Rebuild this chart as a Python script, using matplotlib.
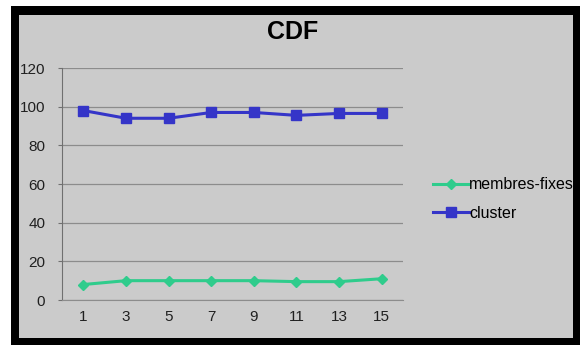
import numpy as np
import matplotlib.pyplot as plt
from matplotlib.patches import Rectangle

# données
x_labels = ["1", "3", "5", "7", "9", "11", "13", "15"]
membres_fixes = [8, 10, 10, 10, 10, 9.5, 9.5, 11]
cluster = [98, 94, 94, 97, 97, 95.5, 96.5, 96.5]
y_ticks = [0, 20, 40, 60, 80, 100, 120]

plt.rcParams['font.family'] = ['Liberation Sans', 'DejaVu Sans']

W, H = 585, 345
fig = plt.figure(figsize=(W / 100, H / 100), dpi=100, facecolor="white")

# cadre noir + fond gris
fig.patches.append(Rectangle((11 / W, 0), (580 - 11) / W, (H - 6) / H,
                             transform=fig.transFigure, facecolor="black",
                             edgecolor="none", zorder=-2))
fig.patches.append(Rectangle((19 / W, (H - 338) / H), (573 - 19) / W, (338 - 15) / H,
                             transform=fig.transFigure, facecolor="#cbcbcb",
                             edgecolor="none", zorder=-1))

ax = fig.add_axes([62 / W, 1 - 300 / H, (403 - 62) / W, (300 - 68) / H])
ax.set_facecolor("none")

x = np.arange(len(x_labels))
ax.plot(x, membres_fixes, color="#2fcc8c", lw=2.2, marker="D", ms=5,
        label="membres-fixes")
ax.plot(x, cluster, color="#3535c8", lw=2.2, marker="s", ms=7,
        label="cluster")

ax.set_xlim(-0.5, len(x_labels) - 0.5)
ax.set_ylim(0, 120)
ax.set_xticks(x)
ax.set_xticklabels(x_labels)
ax.set_yticks(y_ticks)
ax.yaxis.grid(True, color="#8c8c8c", lw=0.9)
ax.set_axisbelow(True)
for s in ["top", "right"]:
    ax.spines[s].set_visible(False)
ax.spines["left"].set_color("#707070")
ax.spines["bottom"].set_color("#8c8c8c")
ax.tick_params(axis="both", labelsize=11, colors="#202020", length=3)
ax.tick_params(axis="x", length=0, pad=7)
ax.tick_params(axis="y", pad=9, color="#707070")

fig.text(293 / W, 1 - 32 / H, "CDF", ha="center", va="center",
         fontsize=18, fontweight="bold")

fig.legend(loc="center left", bbox_to_anchor=(419 / W, 1 - 199 / H),
           frameon=False, fontsize=11.5, handlelength=2.2, handletextpad=0.05,
           labelspacing=0.85)

fig.savefig("out.png", dpi=100, facecolor="white")
